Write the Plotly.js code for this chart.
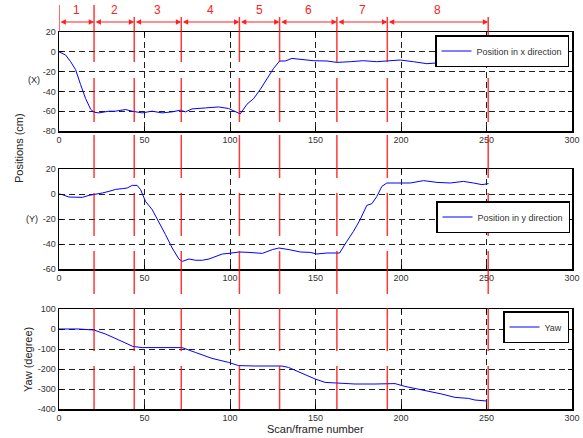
<!DOCTYPE html>
<html>
<head>
<meta charset="utf-8">
<script src="https://cdn.plot.ly/plotly-3.0.1.min.js"></script>
<style>html,body{margin:0;padding:0;background:#fff;}#chart{width:583px;height:438px;}</style>
</head>
<body>
<div id="chart"></div>
<script>
// ---- data ----
const xFrames = [0, 3.9, 6.8, 9.7, 12.6, 15.5, 18.5, 20.4, 23.3, 29.2, 33.0, 38.9, 42.8, 48.6, 54.4, 60.3, 66.1, 71.0, 73.9, 77.8, 85.6, 93.4, 99.2, 103.1, 106.0, 109.9, 113.8, 117.7, 121.6, 125.5, 129.0, 132.3, 136.2, 141.1, 148.9, 156.7, 162.5, 170.3, 178.0, 185.8, 191.7, 199.5, 207.3, 215.1, 222.9, 228.7, 234.6, 240.4, 246.3, 250.5];
const xPosition = [0, -3.3, -10, -18, -33, -47, -58, -61, -61.7, -60, -60, -58.3, -60, -61.7, -60, -61.7, -60.7, -59, -60.7, -57.7, -56.7, -55.7, -57.3, -60, -62.7, -53, -47.3, -38, -26.7, -16.7, -9.3, -9.3, -6.7, -7.7, -9, -9.3, -10.7, -10, -9, -10, -9, -8.3, -10, -12, -11, -9, -7.3, -6, -4, -3.3];

const yFrames = [0, 1.9, 5.8, 9.7, 13.6, 17.5, 21.4, 25.3, 29.2, 33.1, 37.0, 39.9, 42.8, 45.7, 47.7, 50.6, 54.5, 58.4, 62.3, 66.2, 70.1, 72.1, 76.0, 79.9, 83.8, 87.7, 91.6, 95.5, 99.4, 105.2, 111.1, 118.9, 124.7, 128.6, 134.5, 141.2, 146.9, 150.8, 156.7, 164.1, 168.3, 172.2, 176.1, 180.0, 183.0, 185.9, 188.8, 191.7, 197.6, 205.4, 213.2, 221.0, 228.8, 236.5, 242.4, 247.3, 251.2];
const yPosition = [0, -0.5, -2.4, -2.4, -2.7, -1.1, -0.3, 0.8, 2.1, 3.7, 4.3, 4.8, 6.9, 6.9, 3.5, -5.9, -12.5, -21.9, -32.5, -43.2, -52, -53.9, -52, -53, -53, -52, -49.9, -48, -47.5, -46.4, -46.7, -47.5, -44.5, -43.2, -44.5, -46.4, -46.7, -48, -47.2, -47.2, -37.9, -29.9, -20.5, -9.1, -7.7, -1.9, 6.1, 8.8, 8.8, 8.8, 10.7, 9.3, 8.8, 10.1, 8.8, 7.5, 8.3];

const yawFrames = [0, 11.6, 20.4, 27.2, 35.0, 43.2, 48.6, 56.4, 72.0, 79.7, 89.5, 99.2, 105.0, 114.7, 130.3, 134.2, 142.0, 149.8, 155.6, 163.4, 173.1, 184.8, 196.5, 202.3, 208.2, 216.0, 223.8, 231.6, 239.4, 243.2, 250.1];
const yawValues = [0, 0, -5, -25, -55, -87, -93, -93, -93, -117, -147, -167, -183, -185, -185, -192, -222, -250, -267, -272, -275, -275, -273, -287, -297, -308, -325, -342, -347, -355, -360];

const segmentBounds = [0, 20.5, 44, 71.5, 105.5, 129, 162.5, 192, 251];
const segmentLabels = ['1', '2', '3', '4', '5', '6', '7', '8'];

const xTickVals = [0, 50, 100, 150, 200, 250, 300];
const xTickText = ['0', '50', '100', '150', '200', '250', '300'];
const y1TickVals = [-80, -60, -40, -20, 0, 20];
const y1TickText = ['-80', '-60', '-40', '-20', '0', '20'];
const y2TickVals = [-60, -40, -20, 0, 20];
const y2TickText = ['-60', '-40', '-20', '0', '20'];
const y3TickVals = [-400, -300, -200, -100, 0, 100];
const y3TickText = ['-400', '-300', '-200', '-100', '0', '100'];

// ---- layout helpers ----
const W = 583, H = 438;
const py = p => 1 - p / H;          // pixel row -> paper y
const FONT = 'Liberation Sans, Arial, sans-serif';

const xDom = [59 / W, 572 / W];
function xAxis(anchor) {
  return {
    domain: xDom, anchor: anchor, range: [0, 300],
    tickvals: xTickVals, ticktext: xTickText,
    showline: true, linecolor: '#000', linewidth: 1.5, mirror: 'ticks',
    ticks: 'inside', ticklen: 4, tickcolor: '#000',
    showgrid: true, gridcolor: '#222', gridwidth: 1, griddash: '6px,4px',
    zeroline: false, tickfont: {family: FONT, size: 9, color: '#333'}
  };
}
function yAxis(anchor, dom, range, tv, tt) {
  return {
    domain: dom, anchor: anchor, range: range,
    tickvals: tv, ticktext: tt,
    showline: true, linecolor: '#000', linewidth: 1.5, mirror: 'ticks',
    ticks: 'inside', ticklen: 4, tickcolor: '#000',
    showgrid: true, gridcolor: '#222', gridwidth: 1, griddash: '6px,4px',
    zeroline: false, tickfont: {family: FONT, size: 9, color: '#333'}
  };
}

const traces = [
  {x: xFrames, y: xPosition, xaxis: 'x', yaxis: 'y', mode: 'lines', name: 'Position in x direction',
   line: {color: '#0000ff', width: 1}, legend: 'legend'},
  {x: yFrames, y: yPosition, xaxis: 'x2', yaxis: 'y2', mode: 'lines', name: 'Position in y direction',
   line: {color: '#0000ff', width: 1}, legend: 'legend2'},
  {x: yawFrames, y: yawValues, xaxis: 'x3', yaxis: 'y3', mode: 'lines', name: 'Yaw',
   line: {color: '#0000ff', width: 1}, legend: 'legend3'}
];

// red segment boundary lines (drawn in long pieces)
const rows = [[78, 122], [135, 178], [193, 236], [251, 294], [308, 351], [366, 409]];
const shapes = [];
segmentBounds.forEach((b, i) => {
  const segs = [];
  if (i === 0) {
    segs.push([5, 32]);
  } else {
    segs.push([i === 1 ? 5 : 17, 62]);
    rows.forEach(r => segs.push(r));
  }
  segs.forEach(s => shapes.push({
    type: 'line', xref: 'x', yref: 'paper', x0: b, x1: b, y0: py(s[0]), y1: py(s[1]),
    line: {color: 'rgba(255,0,0,0.78)', width: 1.5}, layer: 'above'
  }));
});

const annotations = [];
for (let i = 0; i < segmentLabels.length; i++) {
  annotations.push({
    x: segmentBounds[i + 1], ax: segmentBounds[i], xref: 'x', axref: 'x',
    y: py(22), yref: 'paper', ay: 0, ayref: 'pixel',
    showarrow: true, arrowside: 'end+start', arrowhead: 2, arrowsize: 0.9, arrowwidth: 1.2,
    arrowcolor: '#ff2020', text: ''
  });
  annotations.push({
    x: (segmentBounds[i] + segmentBounds[i + 1]) / 2, xref: 'x', y: py(10), yref: 'paper',
    xanchor: 'center', yanchor: 'middle',
    text: segmentLabels[i], showarrow: false, font: {family: FONT, size: 12, color: '#ff2020'}
  });
}
function label(x, y, text, size, angle) {
  return {x: x / W, y: py(y), xref: 'paper', yref: 'paper', xanchor: 'center', yanchor: 'middle',
          text: text, textangle: angle || 0, showarrow: false,
          font: {family: FONT, size: size, color: '#222'}};
}
annotations.push(
  label(19, 148, 'Positions (cm)', 11, -90),
  label(34, 80, '(X)', 9),
  label(32, 219, '(Y)', 9),
  label(28, 360, 'Yaw (degree)', 11, -90),
  label(315, 429, 'Scan/frame number', 11)
);

function legendBox(xr, ytop) {
  return {x: xr / W, xanchor: 'right', y: py(ytop), yanchor: 'top', bgcolor: '#fff',
          bordercolor: '#000', borderwidth: 1.5, itemwidth: 30, tracegroupgap: 0,
          font: {family: FONT, size: 9, color: '#333'}};
}

const layout = {
  width: W, height: H, margin: {l: 0, r: 0, t: 0, b: 0},
  paper_bgcolor: '#fff', plot_bgcolor: '#fff', showlegend: true,
  xaxis: xAxis('y'), xaxis2: xAxis('y2'), xaxis3: xAxis('y3'),
  yaxis: yAxis('x', [py(131), py(32)], [-80, 20], y1TickVals, y1TickText),
  yaxis2: yAxis('x2', [py(269), py(169)], [-60, 20], y2TickVals, y2TickText),
  yaxis3: yAxis('x3', [py(409), py(309)], [-400, 100], y3TickVals, y3TickText),
  legend: legendBox(569, 35), legend2: legendBox(570, 201), legend3: legendBox(569, 311),
  shapes: shapes, annotations: annotations
};

Plotly.newPlot('chart', traces, layout, {staticPlot: true, displayModeBar: false});
</script>
</body>
</html>
